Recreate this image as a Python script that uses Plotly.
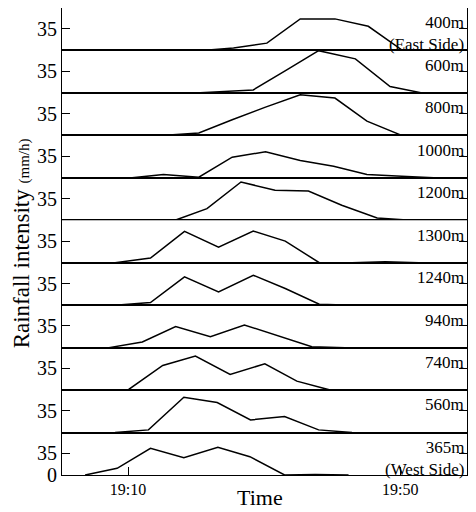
import plotly.graph_objects as go
from plotly.subplots import make_subplots

# minutes after 19:00
stations = ["400m<br>(East Side)", "600m", "800m", "1000m", "1200m", "1300m",
            "1240m", "940m", "740m", "560m", "365m<br>(West Side)"]

t_400 = [20.9, 25.5, 30.4, 35.3, 40.4, 45.3, 50.2, 53.4]
v_400 = [0, 3.8, 11.8, 51, 51, 39, 1, 0]
t_600 = [19.9, 28.4, 33.2, 38.0, 43.4, 48.5, 53.2]
v_600 = [0, 4.8, 36.5, 68.3, 55, 10.2, 0]
t_800 = [15.5, 20.4, 25.3, 30.2, 35.3, 40.4, 45.1, 50.2]
v_800 = [0, 3.8, 25.3, 45.7, 65.6, 60.3, 23, 0]
t_1000 = [10.6, 15.2, 20.4, 25.3, 30.2, 35.3, 40.2, 45.1, 50.2, 54.9]
v_1000 = [0, 5.4, 1, 33.4, 42, 28, 18.8, 5.4, 2.7, 0]
t_1200 = [16.9, 21.6, 26.6, 31.6, 36.5, 41.4, 46.6, 51.5]
v_1200 = [0, 18.8, 61.9, 48.4, 47.3, 24.2, 3.8, 0]
t_1300 = [8.1, 13.3, 18.3, 23.3, 28.4, 33.1, 38.1, 42.9, 47.8, 52.7]
v_1300 = [0, 7.5, 50.6, 25.3, 51.1, 35, 0, 0, 1.6, 0]
t_1240 = [8.1, 13.3, 18.3, 23.3, 28.4, 33.1, 38.1, 42.9]
v_1240 = [0, 4.3, 45.7, 21.5, 48.4, 26.9, 1.6, 0]
t_940 = [7.2, 12.1, 17.0, 22.1, 27.1, 32.0, 37.0, 41.9]
v_940 = [0, 9.1, 33.9, 17.8, 36.6, 18.8, 1.6, 0]
t_740 = [5.2, 10.1, 15.1, 19.9, 25.0, 30.1, 34.8, 39.7]
v_740 = [0, 1, 39.8, 54.9, 25.3, 42.5, 14.5, 0]
t_560 = [8.1, 13.0, 18.2, 23.1, 28.0, 33.0, 38.0, 42.9]
v_560 = [0, 4.3, 57, 48.4, 20.4, 25.8, 4.3, 0]
t_365 = [3.7, 8.4, 13.3, 18.2, 23.2, 27.9, 33.0, 37.5, 42.4]
v_365 = [0, 10.8, 43, 28, 44.7, 29.6, 0, 1, 0]

series = [(t_400, v_400), (t_600, v_600), (t_800, v_800), (t_1000, v_1000),
          (t_1200, v_1200), (t_1300, v_1300), (t_1240, v_1240), (t_940, v_940),
          (t_740, v_740), (t_560, v_560), (t_365, v_365)]

x_tickvals = [10, 50]
x_ticktext = ["19:10", "19:50"]

n = len(stations)
fig = make_subplots(rows=n, cols=1, shared_xaxes=True, vertical_spacing=0)

FONT = "Liberation Serif, Times New Roman, serif"

for i, (t, v) in enumerate(series):
    fig.add_trace(go.Scatter(x=t, y=v, mode="lines",
                             line=dict(color="black", width=1.5),
                             showlegend=False, hoverinfo="skip"),
                  row=i + 1, col=1)
    last = (i == n - 1)
    fig.update_yaxes(range=[0, 68.6],
                     tickvals=[0, 35] if last else [35],
                     ticktext=["0", "35"] if last else ["35"],
                     ticks="inside", ticklen=8, tickwidth=1, tickcolor="black",
                     showline=True, linewidth=1.2, linecolor="black", mirror="ticks",
                     showgrid=False, zeroline=False, automargin=False,
                     tickfont=dict(family=FONT, size=20, color="black"),
                     row=i + 1, col=1)
    fig.update_xaxes(range=[0.3, 59.8], showgrid=False, zeroline=False,
                     showline=True, linewidth=1.2, linecolor="black", mirror=True,
                     automargin=False,
                     row=i + 1, col=1)
    yref = "y domain" if i == 0 else f"y{i + 1} domain"
    fig.add_annotation(text=stations[i], xref="paper", yref=yref,
                       x=1, y=0.92, xanchor="right", yanchor="top",
                       showarrow=False, align="right", xshift=-1,
                       font=dict(family=FONT, size=17, color="black"))

fig.update_xaxes(tickvals=x_tickvals, ticktext=x_ticktext,
                 ticks="inside", ticklen=8, tickcolor="black",
                 tickfont=dict(family=FONT, size=16, color="black"),
                 row=n, col=1)

fig.add_annotation(text="Time", xref="paper", yref="paper", x=0.49, y=-0.018,
                   xanchor="center", yanchor="top", showarrow=False,
                   font=dict(family=FONT, size=22, color="black"))

fig.add_annotation(text="Rainfall intensity <span style='font-size:15px'>(mm/h)</span>",
                   xref="paper", yref="paper", x=-0.1, y=0.495,
                   xanchor="center", yanchor="middle", textangle=-90,
                   showarrow=False,
                   font=dict(family=FONT, size=23, color="black"))

# page body adds an 8px margin, so the figure is sized to fit inside the window
fig.update_layout(width=468, height=504,
                  margin=dict(l=54, r=9, t=0, b=37),
                  plot_bgcolor="white", paper_bgcolor="white")

fig.write_html("out.html")
